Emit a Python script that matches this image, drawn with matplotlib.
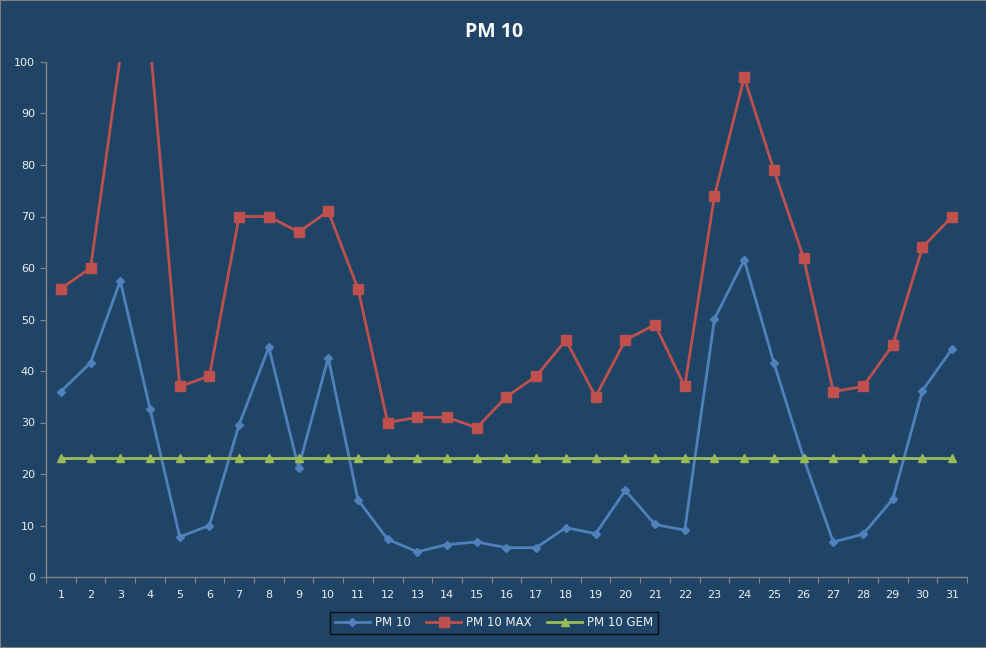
import numpy as np
import matplotlib.pyplot as plt

# ---------------------------------------------------------------- data
days = list(range(1, 32))
pm10 = [36.0, 41.6, 57.5, 32.7, 7.8, 10.0, 29.6, 44.6, 21.2, 42.6,
        15.0, 7.3, 4.9, 6.3, 6.8, 5.7, 5.7, 9.6, 8.4, 16.8,
        10.2, 9.1, 50.1, 61.6, 41.6, 23.1, 6.8, 8.3, 15.1, 36.2, 44.3]
pm10_max = [56, 60, 101, 104, 37, 39, 70, 70, 67, 71,
            56, 30, 31, 31, 29, 35, 39, 46, 35, 46,
            49, 37, 74, 97, 79, 62, 36, 37, 45, 64, 70]
pm10_gem = [23.2] * 31

bg = '#1F4465'
txt = '#F2F2F2'
axc = '#868686'

fig = plt.figure(figsize=(9.87, 6.48), dpi=100, facecolor=bg)
ax = fig.add_axes([46/987, 1-577/648, (967-46)/987, (577-62)/648])
ax.set_facecolor(bg)

# markers beyond the axis top are hidden, like the spreadsheet does
inside = [i for i, v in enumerate(pm10_max) if v <= 100]

ax.plot(days, pm10, color='#4F81BD', lw=2.0, marker='D', ms=4.5,
        label='PM 10')
ax.plot(days, pm10_max, color='#C0504D', lw=2.0, marker='s', ms=6.5,
        markevery=inside, label='PM 10 MAX')
ax.plot(days, pm10_gem, color='#9BBB59', lw=2.0, marker='^', ms=5.5,
        label='PM 10 GEM')

ax.set_xlim(0.5, 31.5)
ax.set_ylim(0, 100)
ax.set_yticks(np.arange(0, 101, 10))

# category axis: tick marks between labels
ax.set_xticks(np.arange(0.5, 32, 1))
ax.set_xticklabels([])
ax.set_xticks(days, minor=True)
ax.set_xticklabels([str(d) for d in days], minor=True)
ax.tick_params(axis='x', which='major', length=4, color=axc, direction='out')
ax.tick_params(axis='x', which='minor', length=0, pad=9, labelsize=8,
               labelcolor=txt)
ax.tick_params(axis='y', length=4, color=axc, labelsize=8, labelcolor=txt,
               pad=4)

for s in ['top', 'right']:
    ax.spines[s].set_visible(False)
for s in ['left', 'bottom']:
    ax.spines[s].set_color(axc)
    ax.spines[s].set_linewidth(1)

fig.text(494/987, 1-32/648, 'PM 10', ha='center', va='center',
         color='white', fontsize=14, fontweight='bold', family='Open Sans')

leg = fig.legend(loc='center', bbox_to_anchor=(494/987, 1-623/648), ncol=3,
                 frameon=True, fancybox=False, fontsize=8.5,
                 handlelength=3.0, columnspacing=1.3, borderpad=0.4,
                 handletextpad=0.4)
leg.get_frame().set_facecolor(bg)
leg.get_frame().set_edgecolor('black')
leg.get_frame().set_linewidth(1)
for t in leg.get_texts():
    t.set_color(txt)

# outer border
fig.patches.append(plt.Rectangle((0, 0), 1, 1, transform=fig.transFigure,
                                 fill=False, edgecolor='#808080', lw=1.5))

fig.savefig('out.png', dpi=100, facecolor=bg)
